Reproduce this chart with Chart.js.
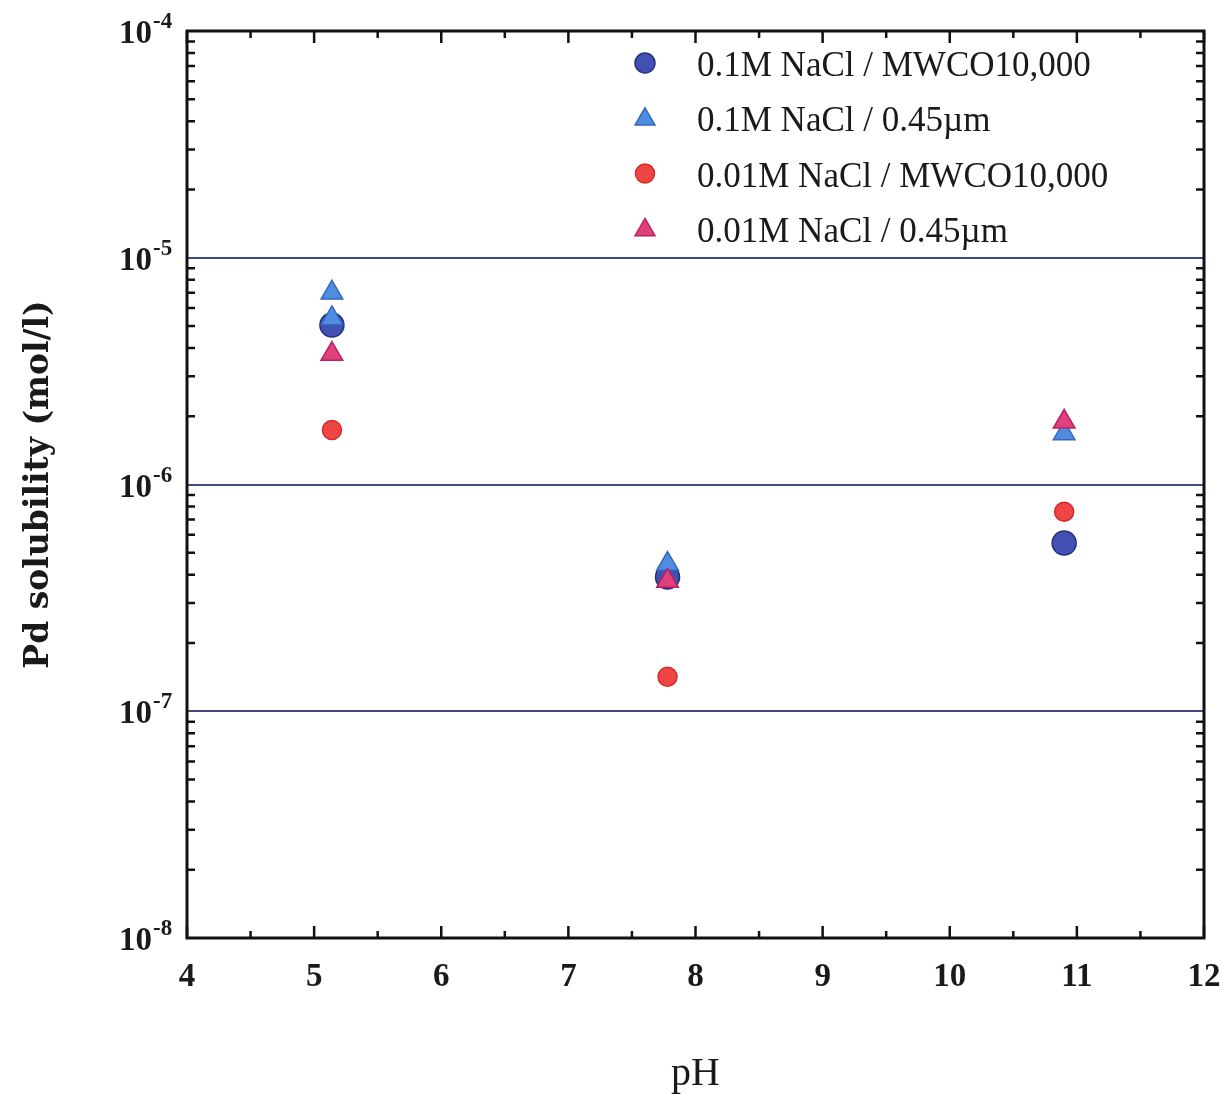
<!DOCTYPE html>
<html>
<head>
<meta charset="utf-8">
<script src="https://cdn.jsdelivr.net/npm/chart.js@4.4.1/dist/chart.umd.min.js"></script>
<style>
  html, body { margin: 0; padding: 0; background: #ffffff; }
  #wrap { width: 1221px; height: 1094px; position: relative; }
</style>
</head>
<body>
<div id="wrap"><canvas id="solChart"></canvas></div>
<script>
// Pd solubility vs pH (log scale)
const pHTicks = [4, 5, 6, 7, 8, 9, 10, 11, 12];
const yDecades = [1e-8, 1e-7, 1e-6, 1e-5, 1e-4];
const gridDecades = [1e-7, 1e-6, 1e-5];

const seriesLabels = [
  "0.1M NaCl / MWCO10,000",
  "0.1M NaCl / 0.45\u00b5m",
  "0.01M NaCl / MWCO10,000",
  "0.01M NaCl / 0.45\u00b5m"
];

const na01MwcoPH = [5.14, 7.78, 10.9];
const na01MwcoSol = [5.05e-6, 3.91e-7, 5.52e-7];

const na01FilterPH = [5.14, 5.14, 7.78, 10.9];
const na01FilterSol = [7.0e-6, 5.4e-6, 4.46e-7, 1.68e-6];

const na001MwcoPH = [5.14, 7.78, 10.9];
const na001MwcoSol = [1.74e-6, 1.42e-7, 7.59e-7];

const na001FilterPH = [5.14, 7.78, 10.9];
const na001FilterSol = [3.76e-6, 3.75e-7, 1.89e-6];

const serif = "'Liberation Serif', 'Times New Roman', serif";
const textColor = "#1a1a1a";

const pts = (xs, ys) => xs.map((x, i) => ({ x, y: ys[i] }));

const styles = [
  { pointStyle: "circle",   radius: 12,  fill: "#4150b2", stroke: "#262f7c" },
  { pointStyle: "triangle", radius: 12.5, fill: "#4f8de0", stroke: "#3567bf" },
  { pointStyle: "circle",   radius: 9.5, fill: "#f04545", stroke: "#d22c2c" },
  { pointStyle: "triangle", radius: 12.5, fill: "#e0407c", stroke: "#b82262" }
];

const seriesData = [
  pts(na01MwcoPH, na01MwcoSol),
  pts(na01FilterPH, na01FilterSol),
  pts(na001MwcoPH, na001MwcoSol),
  pts(na001FilterPH, na001FilterSol)
];

const datasets = seriesLabels.map((label, i) => ({
  label,
  data: seriesData[i],
  pointStyle: styles[i].pointStyle,
  pointRadius: styles[i].radius,
  pointHoverRadius: styles[i].radius,
  backgroundColor: styles[i].fill,
  borderColor: styles[i].stroke,
  borderWidth: 1.5,
  showLine: false,
  order: 4 - i
}));

function markerPath(ctx, style, r, x, y) {
  ctx.beginPath();
  if (style === "circle") {
    ctx.arc(x, y, r, 0, Math.PI * 2);
  } else {
    for (let k = 0; k < 3; k++) {
      const a = -Math.PI / 2 + k * 2 * Math.PI / 3;
      const px = x + Math.cos(a) * r, py = y + Math.sin(a) * r;
      if (k === 0) ctx.moveTo(px, py); else ctx.lineTo(px, py);
    }
    ctx.closePath();
  }
}

const framePlugin = {
  id: "frameTicks",
  afterDraw(chart) {
    const { ctx, chartArea: a, scales: { x, y } } = chart;
    ctx.save();
    ctx.strokeStyle = "#111";
    ctx.lineCap = "butt";

    // inward ticks
    ctx.lineWidth = 2.5;
    ctx.beginPath();
    for (let v = 4; v <= 12; v += 0.5) {
      const px = x.getPixelForValue(v);
      const len = Number.isInteger(v) ? 12 : 7;
      ctx.moveTo(px, a.bottom); ctx.lineTo(px, a.bottom - len);
      ctx.moveTo(px, a.top); ctx.lineTo(px, a.top + len);
    }
    for (let e = -8; e < -4; e++) {
      for (let m = 2; m <= 9; m++) {
        const py = y.getPixelForValue(m * Math.pow(10, e));
        ctx.moveTo(a.left, py); ctx.lineTo(a.left + 8, py);
        ctx.moveTo(a.right, py); ctx.lineTo(a.right - 8, py);
      }
    }
    ctx.stroke();

    // frame
    ctx.lineWidth = 3;
    ctx.strokeRect(a.left, a.top, a.right - a.left, a.bottom - a.top);

    // y tick labels with superscript exponent
    ctx.fillStyle = textColor;
    y.ticks.forEach(t => {
      const py = y.getPixelForValue(t.value);
      const exp = Math.round(Math.log10(t.value));
      ctx.font = "bold 33px " + serif;
      ctx.textAlign = "right";
      ctx.textBaseline = "alphabetic";
      ctx.fillText("10", 152, py + 12);
      ctx.font = "bold 23px " + serif;
      ctx.textAlign = "left";
      ctx.fillText(String(exp), 153, py - 3);
    });

    // legend
    const lx = 645, tx = 697, ly0 = 65, dy = 55.3;
    chart.data.datasets.forEach((ds, i) => {
      const ly = ly0 + i * dy;
      const s = styles[i];
      const r = s.pointStyle === "circle" ? (i === 0 ? 10 : 9.5) : 11.5;
      const my = s.pointStyle === "circle" ? ly - 2 : ly - 1;
      markerPath(ctx, s.pointStyle, r, lx, my);
      ctx.fillStyle = s.fill;
      ctx.fill();
      ctx.lineWidth = 1.5;
      ctx.strokeStyle = s.stroke;
      ctx.stroke();
      ctx.fillStyle = textColor;
      ctx.font = "35px " + serif;
      ctx.textAlign = "left";
      ctx.textBaseline = "alphabetic";
      ctx.fillText(ds.label, tx, ly + 11);
    });
    ctx.restore();
  }
};

const ctx = document.getElementById("solChart").getContext("2d");
const chart = new Chart(ctx, {
  type: "scatter",
  data: { datasets },
  options: {
    responsive: true,
    maintainAspectRatio: false,
    animation: false,
    devicePixelRatio: 1,
    layout: { padding: { top: 31, right: 2, bottom: 0, left: 0 } },
    plugins: {
      legend: { display: false },
      tooltip: { enabled: false }
    },
    scales: {
      x: {
        type: "linear",
        min: 4,
        max: 12,
        afterBuildTicks: s => { s.ticks = pHTicks.map(v => ({ value: v })); },
        afterFit: s => { s.height = 156; s.paddingRight = 17; },
        ticks: {
          color: textColor,
          padding: 12,
          font: { family: serif, size: 33, weight: "bold" }
        },
        grid: { display: false },
        border: { display: false },
        title: {
          display: true,
          text: "pH",
          color: textColor,
          font: { family: serif, size: 40, lineHeight: 1.0 },
          padding: { top: 0, bottom: 0 }
        }
      },
      y: {
        type: "logarithmic",
        min: 1e-8,
        max: 1e-4,
        afterBuildTicks: s => { s.ticks = yDecades.map(v => ({ value: v })); },
        afterFit: s => { s.width = 187; },
        ticks: { display: false },
        grid: {
          drawTicks: false,
          lineWidth: 2,
          color: c => gridDecades.some(g => Math.abs(g - c.tick.value) / g < 1e-6) ? "#3f4a85" : "rgba(0,0,0,0)"
        },
        border: { display: false },
        title: {
          display: true,
          text: "Pd solubility (mol/l)",
          color: textColor,
          font: { family: "'DejaVu Serif', serif", size: 33, weight: "bold" },
          padding: { top: 20, bottom: 0 }
        }
      }
    }
  },
  plugins: [framePlugin]
});
</script>
</body>
</html>
